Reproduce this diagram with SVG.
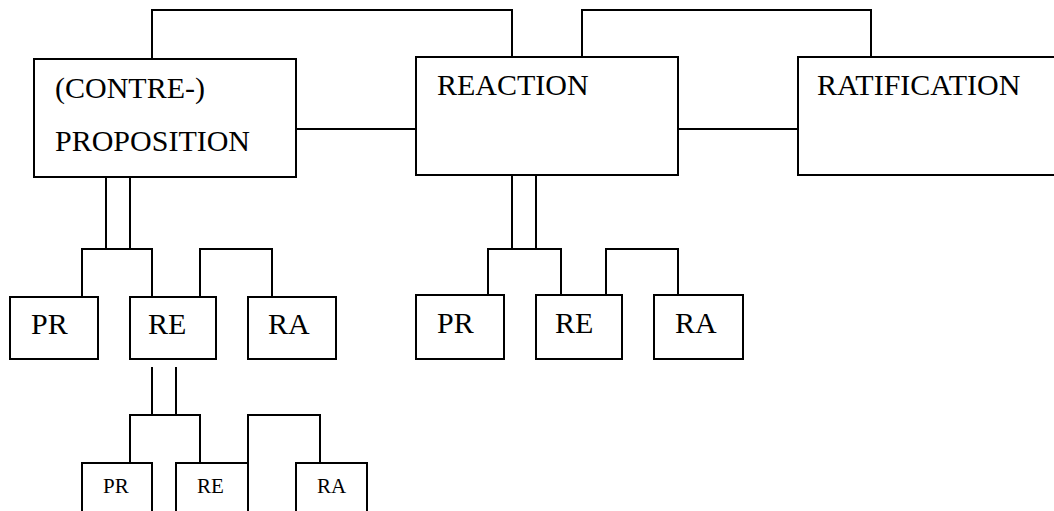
<svg xmlns="http://www.w3.org/2000/svg" width="1054" height="511" viewBox="0 0 1054 511">
<style>
rect{fill:#fff;stroke:#000;stroke-width:2}
.c path{fill:none;stroke:#000;stroke-width:2}
text{fill:#000}
.L{font-size:30px}
.S{font-size:21px}
</style>
<rect x="0" y="0" width="1054" height="511" style="stroke:none"/>
<g class="c" id="connectors">
<path d="M152 59V10H512V57"/>
<path d="M582 57V10H871V57"/>
<path d="M296 129H416"/>
<path d="M678 129H798"/>
<path d="M106 177V249M130 177V249M82 297V249H152V297M200 297V249H272V297"/>
<path d="M512 175V249M536 175V249M488 295V249H561V295M606 295V249H678V295"/>
<path d="M152 367V415M176 367V415M130 463V415H200V463M248 463V415H320V463"/>
</g>
<g font-family="'Liberation Serif', 'DejaVu Serif', serif">
<g id="proposition"><rect x="34" y="59" width="262" height="118"/><text class="L" x="55" y="98">(CONTRE-)</text><text class="L" x="55" y="151">PROPOSITION</text></g>
<g id="reaction"><rect x="416" y="57" width="262" height="118"/><text class="L" x="437" y="95">REACTION</text></g>
<g id="ratification"><rect x="798" y="57" width="270" height="118"/><text class="L" x="817" y="95">RATIFICATION</text></g>
<g id="pr1"><rect x="10" y="297" width="88" height="62"/><text class="L" x="31" y="334">PR</text></g>
<g id="re1"><rect x="130" y="297" width="86" height="62"/><text class="L" x="148" y="334">RE</text></g>
<g id="ra1"><rect x="248" y="297" width="88" height="62"/><text class="L" x="268" y="334">RA</text></g>
<g id="pr2"><rect x="416" y="295" width="88" height="64"/><text class="L" x="437" y="333">PR</text></g>
<g id="re2"><rect x="536" y="295" width="86" height="64"/><text class="L" x="555" y="333">RE</text></g>
<g id="ra2"><rect x="654" y="295" width="89" height="64"/><text class="L" x="675" y="333">RA</text></g>
<g id="pr3"><rect x="82" y="463" width="70" height="60"/><text class="S" x="103" y="493">PR</text></g>
<g id="re3"><rect x="176" y="463" width="72" height="60"/><text class="S" x="197" y="493">RE</text></g>
<g id="ra3"><rect x="296" y="463" width="71" height="60"/><text class="S" x="317" y="493">RA</text></g>
</g>
</svg>
